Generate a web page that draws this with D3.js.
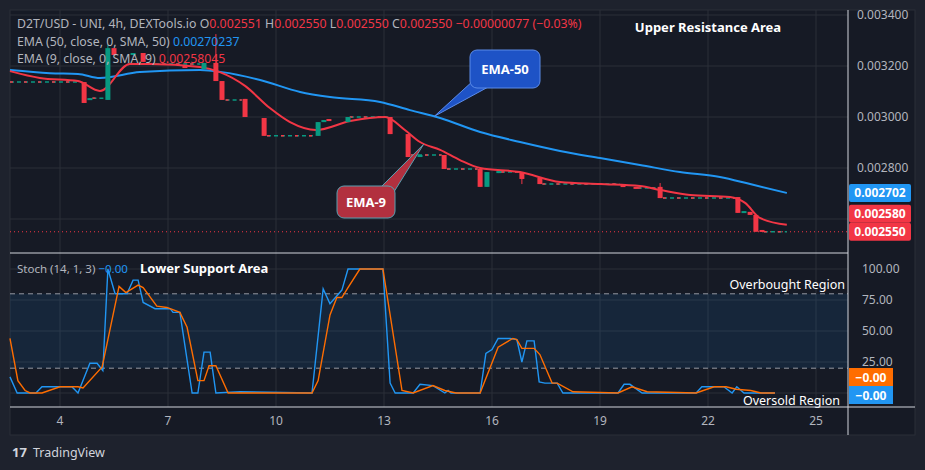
<!DOCTYPE html>
<html><head><meta charset="utf-8">
<script src="https://cdn.jsdelivr.net/npm/d3@7"></script>
<style>body{margin:0;background:#1e222d;font-family:"Noto Sans",sans-serif}</style>
</head><body><div id="chart"></div>
<script>
// candles: [day, open, close, high, low]
const candles = [
  [4.67, .003137, .003055], [4.83, .003067, .003074], [5.33, .003067, .003270, .003282],
  [5.5, .003270, .003243], [6.03, .003243, .003251], [6.31, .003251, .003216],
  [7.47, .003200, .003192], [8.0, .003188, .003212], [8.33, .003212, .003141, .003325],
  [8.5, .003141, .003067], [9.14, .003071, .003000], [9.67, .002996, .002926],
  [11.17, .002926, .002980], [11.33, .002980, .002988], [11.47, .002992, .002984],
  [12.0, .002980, .003000], [13.17, .003000, .002933], [13.67, .002933, .002843],
  [14.0, .002843, .002851], [14.67, .002851, .002796], [15.67, .002796, .002726],
  [15.86, .002726, .002784], [16.19, .002780, .002788], [16.83, .002784, .002757, null, .002737],
  [17.33, .002761, .002737], [19.64, .002733, .002726], [20.0, .002726, .002718],
  [20.67, .002726, .002682, .002741], [22.83, .002686, .002624], [23.0, .002624, .002631],
  [23.17, .002628, .002616], [23.33, .002616, .002550], [23.5, .002557, .002550]
];
// flat stretches of doji candles: [startDay, endDay, price]
const flats = [
  [2.61, 4.55, .003137], [4.9, 5.25, .003074], [6.45, 7.9, .003208], [8.6, 9.05, .003067],
  [9.75, 11.1, .002926], [12.05, 13.1, .003000], [13.75, 14.6, .002851], [14.75, 15.6, .002796],
  [16.25, 16.75, .002784], [17.4, 19.55, .002737], [20.05, 20.6, .002722], [20.75, 22.75, .002682],
  [23.55, 24.19, .002550]
];
const ema50 = [[2.61,.003184],[3.72,.003172],[4.5,.003169],[5.11,.003153],[6.22,.003176],[7.89,.003184],
  [8.5,.003176],[9.56,.003145],[10.67,.003098],[11.5,.003078],[12.89,.003059],[13.72,.003027],
  [14.56,.002996],[15.67,.002941],[16.78,.002902],[17.89,.002867],[19.0,.002839],[20.11,.002812],
  [21.22,.002784],[22.33,.002765],[23.17,.002737],[24.19,.002702]];
const ema9 = [[2.61,.003180],[3.44,.003153],[4.5,.003141],[5.11,.003102],[5.94,.003208],[6.5,.003208],
  [7.89,.003196],[8.44,.003176],[9.14,.003122],[9.83,.003035],[10.39,.002980],[11.11,.002949],
  [12.06,.002984],[13.03,.003000],[13.58,.002949],[14.0,.002902],[14.56,.002871],[15.11,.002831],
  [15.67,.002800],[16.78,.002784],[17.89,.002745],[19.0,.002737],[20.11,.002729],[20.67,.002714],
  [21.5,.002694],[22.61,.002686],[23.03,.002663],[23.44,.002604],[24.19,.002577]];
const stochK = [[2.61,13],[2.81,0],[3.33,0],[3.5,5],[4.33,5],[4.5,0],[4.83,24],[5.03,24],[5.19,18],
  [5.33,100],[5.53,80],[5.86,80],[6.03,91],[6.17,91],[6.31,73],[6.64,68],[7.06,68],[7.14,65],[7.33,65],
  [7.67,0],[7.83,0],[8.0,33],[8.17,33],[8.33,0],[9.0,1],[11.0,0],[11.31,84],[11.5,72],[11.83,83],
  [12.0,100],[12.97,100],[13.17,8],[13.31,0],[13.81,0],[14.0,7],[14.36,6],[14.69,0],[14.78,2],[14.86,0],
  [15.67,0],[15.83,32],[16.0,35],[16.17,44],[16.5,44],[16.69,43],[16.83,25],[16.97,42],[17.17,42],
  [17.31,9],[17.47,8],[17.81,8],[17.97,0],[19.5,0],[19.67,7],[19.83,7],[20.17,0],[21.67,0],[21.83,5],
  [22.44,5],[22.67,0],[22.8,5],[23.0,0],[23.86,0]];
const stochD = [[2.61,44],[2.83,10],[3.03,2],[3.17,0],[3.5,0],[4.0,5],[4.5,5],[4.64,4],[5.17,21],[5.33,43],
  [5.64,86],[5.83,81],[6.17,87],[6.31,85],[6.69,70],[6.97,69],[7.33,65],[7.53,53],[7.83,10],[8.0,10],
  [8.14,22],[8.33,22],[8.67,0],[11.0,0],[11.17,10],[11.5,63],[11.69,77],[11.83,77],[12.0,85],[12.33,100],
  [12.97,100],[13.5,2],[13.81,0],[14.36,6],[14.69,2],[15.0,0],[15.67,0],[16.17,37],[16.58,44],[16.69,43],
  [16.83,36],[17.17,36],[17.33,31],[17.67,8],[17.81,8],[18.25,1],[19.5,0],[19.89,5],[20.31,1],
  [21.67,0],[22.17,5],[22.5,5],[22.78,3],[23.19,2],[23.47,0],[23.86,0]];
const priceTicks = [0.0026, 0.0028, 0.0030, 0.0032, 0.0034];
const stochTicks = [25, 50, 75, 100];
const dayTicks = [4, 7, 10, 13, 16, 19, 22, 25];

const W = 925, H = 470;
const L = 10, R = 848, T = 10, topB = 253, botB = 407, frameB = 435;
const svg = d3.select("#chart").append("svg").attr("width", W).attr("height", H);
svg.append("rect").attr("width", W).attr("height", H).attr("fill", "#1e222d");
svg.append("rect").attr("x", L).attr("y", T).attr("width", 905).attr("height", frameB - T)
  .attr("fill", "#161a25").attr("stroke", "#2a2e39");

const x = d3.scaleLinear().domain([4, 25]).range([60, 816]);
const y = d3.scaleLinear().domain([0.0030, 0.0032]).range([117, 66]);
const ys = d3.scaleLinear().domain([0, 100]).range([393, 269]);
const grid = "#2a2e39", txt = "#b2b5be", red = "#f23645", green = "#089981";

// grid
dayTicks.forEach(d => {
  svg.append("line").attr("x1", x(d)).attr("x2", x(d)).attr("y1", T).attr("y2", botB).attr("stroke", grid);
});
priceTicks.forEach(p => {
  svg.append("line").attr("x1", L).attr("x2", R).attr("y1", y(p)).attr("y2", y(p)).attr("stroke", grid);
  if (p > 0.0027) svg.append("text").attr("x", 857).attr("y", y(p) + 4).text(p.toFixed(6))
    .attr("fill", txt).attr("font-size", 12);
});
stochTicks.forEach(v => {
  svg.append("line").attr("x1", L).attr("x2", R).attr("y1", ys(v)).attr("y2", ys(v)).attr("stroke", grid);
  svg.append("text").attr("x", 862).attr("y", ys(v) + 4).text(v.toFixed(2)).attr("fill", txt).attr("font-size", 12);
});
svg.append("line").attr("x1", L).attr("x2", R).attr("y1", ys(0)).attr("y2", ys(0)).attr("stroke", grid);
dayTicks.forEach(d => {
  svg.append("text").attr("x", x(d)).attr("y", 425).attr("text-anchor", "middle").text(d)
    .attr("fill", txt).attr("font-size", 12);
});

// price pane
const pane = svg.append("g");
pane.append("line").attr("x1", L).attr("x2", R).attr("y1", y(0.00255)).attr("y2", y(0.00255))
  .attr("stroke", red).attr("stroke-dasharray", "1,3");
flats.forEach(f => {
  pane.append("line").attr("x1", x(f[0])).attr("x2", x(f[1])).attr("y1", y(f[2])).attr("y2", y(f[2]))
    .attr("stroke", green).attr("stroke-width", 1.5).attr("stroke-dasharray", "4,3");
  pane.append("line").attr("x1", x(f[0])).attr("x2", x(f[1])).attr("y1", y(f[2])).attr("y2", y(f[2]))
    .attr("stroke", red).attr("stroke-width", 1.5).attr("stroke-dasharray", "3,11");
});
const line = d3.line().x(d => x(d[0])).curve(d3.curveMonotoneX);
pane.append("path").datum(ema50).attr("d", line.y(d => y(d[1]))).attr("fill", "none")
  .attr("stroke", "#2196f3").attr("stroke-width", 2);
pane.append("path").datum(ema9).attr("d", line.y(d => y(d[1]))).attr("fill", "none")
  .attr("stroke", red).attr("stroke-width", 2);
candles.forEach(c => {
  const col = c[2] >= c[1] ? green : red;
  const cx = x(c[0]);
  const hi = c[3] || Math.max(c[1], c[2]), lo = c[4] || Math.min(c[1], c[2]);
  pane.append("line").attr("x1", cx).attr("x2", cx).attr("y1", y(hi)).attr("y2", y(lo)).attr("stroke", col);
  const y0 = y(Math.max(c[1], c[2])), y1 = y(Math.min(c[1], c[2]));
  pane.append("rect").attr("x", cx - 2.5).attr("width", 5).attr("y", y0).attr("height", Math.max(2, y1 - y0)).attr("fill", col);
});

// callouts
function callout(bx, by, bw, bh, tip, fill, stroke, label, base) {
  svg.append("path").attr("d", `M${base[0][0]},${base[0][1]}L${tip[0]},${tip[1]}L${base[1][0]},${base[1][1]}Z`)
    .attr("fill", fill).attr("stroke", stroke);
  svg.append("rect").attr("x", bx).attr("y", by).attr("width", bw).attr("height", bh).attr("rx", 7)
    .attr("fill", fill).attr("stroke", stroke);
  svg.append("text").attr("x", bx + bw / 2).attr("y", by + bh / 2 + 5).attr("text-anchor", "middle")
    .text(label).attr("fill", "#fff").attr("font-size", 13).attr("font-weight", "bold");
}
callout(470, 50, 70, 38, [x(14.4), y(0.003003)], "#1e53c6", "#5b8be8", "EMA-50", [[474, 80], [490, 86]]);
callout(337, 186, 58, 32, [x(14.1), y(0.002893)], "#b2303f", "#5b9fb0", "EMA-9", [[380, 188], [392, 195]]);
svg.append("text").attr("x", 708).attr("y", 32).attr("text-anchor", "middle").text("Upper Resistance Area")
  .attr("fill", "#fff").attr("font-size", 13).attr("font-weight", "bold");

// legend
const fs = 12.3;
const lg = svg.append("text").attr("x", 17).attr("y", 28).attr("font-size", fs).attr("fill", txt);
lg.append("tspan").text("D2T/USD - UNI, 4h, DEXTools.io  O");
lg.append("tspan").attr("fill", red).text("0.002551");
lg.append("tspan").text("  H");
lg.append("tspan").attr("fill", red).text("0.002550");
lg.append("tspan").text("  L");
lg.append("tspan").attr("fill", red).text("0.002550");
lg.append("tspan").text("  C");
lg.append("tspan").attr("fill", red).text("0.002550  −0.00000077 (−0.03%)");
const l2 = svg.append("text").attr("x", 17).attr("y", 46).attr("font-size", fs).attr("fill", txt);
l2.append("tspan").text("EMA (50, close, 0, SMA, 50)  ");
l2.append("tspan").attr("fill", "#2196f3").text("0.00270237");
const l3 = svg.append("text").attr("x", 17).attr("y", 63).attr("font-size", fs).attr("fill", txt);
l3.append("tspan").text("EMA (9, close, 0, SMA, 9)  ");
l3.append("tspan").attr("fill", red).text("0.00258045");

// price labels
function tag(yy, fill, label) {
  svg.append("rect").attr("x", 849).attr("y", yy - 9).attr("width", 62).attr("height", 18).attr("fill", fill).attr("rx", 2);
  svg.append("text").attr("x", 880).attr("y", yy + 4.5).attr("text-anchor", "middle").text(label)
    .attr("fill", "#fff").attr("font-size", 12).attr("font-weight", "bold");
}
tag(y(0.002702), "#2196f3", "0.002702");
tag(y(0.002550) - 18, red, "0.002580");
tag(y(0.002550), red, "0.002550");

// stoch pane
svg.append("rect").attr("x", L).attr("width", R - L).attr("y", ys(80)).attr("height", ys(20) - ys(80))
  .attr("fill", "rgba(33,150,243,0.1)");
[80, 20].forEach(v => svg.append("line").attr("x1", L).attr("x2", R).attr("y1", ys(v)).attr("y2", ys(v))
  .attr("stroke", "#9598a1").attr("stroke-dasharray", "5,4"));
const sl = d3.line().x(d => x(d[0])).y(d => ys(d[1]));
svg.append("path").datum(stochK).attr("d", sl).attr("fill", "none").attr("stroke", "#2196f3").attr("stroke-width", 1.4);
svg.append("path").datum(stochD).attr("d", sl).attr("fill", "none").attr("stroke", "#ff6d00").attr("stroke-width", 1.4);
const st = svg.append("text").attr("x", 17).attr("y", 273).attr("font-size", 11.5).attr("fill", txt);
st.append("tspan").text("Stoch (14, 1, 3)  ");
st.append("tspan").attr("fill", "#2196f3").text("−0.00");
svg.append("text").attr("x", 140).attr("y", 273).text("Lower Support Area")
  .attr("fill", "#fff").attr("font-size", 13).attr("font-weight", "bold");
svg.append("text").attr("x", 845).attr("y", 289).attr("text-anchor", "end").text("Overbought Region")
  .attr("fill", "#fff").attr("font-size", 12.5);
svg.append("text").attr("x", 840).attr("y", 405).attr("text-anchor", "end").text("Oversold Region")
  .attr("fill", "#fff").attr("font-size", 12.5);
function stag(yy, fill) {
  svg.append("rect").attr("x", 849).attr("y", yy - 9).attr("width", 44).attr("height", 18).attr("fill", fill);
  svg.append("text").attr("x", 871).attr("y", yy + 4.5).attr("text-anchor", "middle").text("−0.00")
    .attr("fill", "#fff").attr("font-size", 12).attr("font-weight", "bold");
}
stag(377, "#ff6d00");
stag(395, "#2196f3");

// separators
svg.append("line").attr("x1", L).attr("x2", R).attr("y1", topB).attr("y2", topB).attr("stroke", "#d1d4dc");
svg.append("line").attr("x1", L).attr("x2", 915).attr("y1", botB).attr("y2", botB).attr("stroke", "#d1d4dc");
svg.append("line").attr("x1", R).attr("x2", R).attr("y1", T).attr("y2", frameB).attr("stroke", "#d1d4dc");

// footer
svg.append("text").attr("x", 12).attr("y", 457).text("17").attr("fill", "#d1d4dc").attr("font-size", 13).attr("font-weight", "bold");
svg.append("text").attr("x", 33).attr("y", 457).text("TradingView").attr("fill", "#d1d4dc").attr("font-size", 12.5);
</script></body></html>
